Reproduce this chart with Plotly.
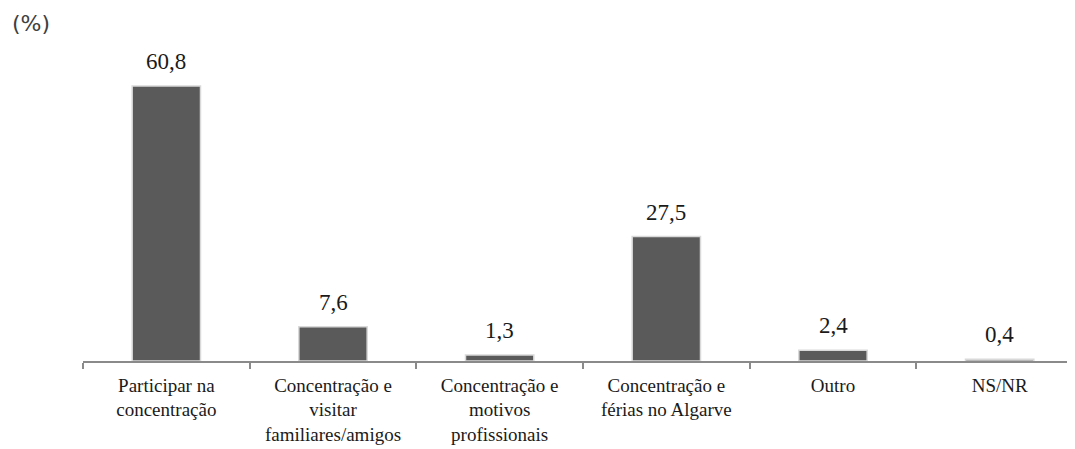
import plotly.graph_objects as go

categories = [
    "Participar na<br>concentração",
    "Concentração e<br>visitar<br>familiares/amigos",
    "Concentração e<br>motivos<br>profissionais",
    "Concentração e<br>férias no Algarve",
    "Outro",
    "NS/NR",
]
values = [60.8, 7.6, 1.3, 27.5, 2.4, 0.4]
value_labels = ["60,8", "7,6", "1,3", "27,5", "2,4", "0,4"]

SERIF = "Liberation Serif"

fig = go.Figure()
fig.add_trace(go.Bar(
    x=categories,
    y=values,
    width=0.41,
    marker=dict(color="#5a5a5a", line=dict(color="#d9d9d9", width=1.5)),
    hoverinfo="skip",
))

for c, v, t in zip(categories, values, value_labels):
    fig.add_annotation(
        x=c, y=v, text=t, showarrow=False, yanchor="bottom", yshift=10,
        font=dict(family=SERIF, size=23, color="#1a1a1a"),
    )

fig.add_annotation(
    xref="paper", yref="paper", x=-0.073, y=1.066, xanchor="left", yanchor="middle",
    text="(%)", showarrow=False,
    font=dict(family="DejaVu Sans", size=22, color="#404040"),
)

plot_h = 317
fig.update_layout(
    width=1075, height=449,
    margin=dict(l=75, r=0, t=36, b=96, autoexpand=False),
    paper_bgcolor="white", plot_bgcolor="white",
    showlegend=False,
    font=dict(family=SERIF),
    xaxis=dict(
        range=[-0.5, 5.5], automargin=False,
        showline=True, linecolor="#8a8a8a", linewidth=1.5,
        ticks="outside", tickson="boundaries", ticklen=6, tickcolor="#8a8a8a", tickwidth=1.5,
        ticklabelstandoff=6,
        tickfont=dict(family=SERIF, size=19, color="#1a1a1a"),
        showgrid=False, zeroline=False,
    ),
    yaxis=dict(
        range=[0, plot_h / 4.523], visible=False, showgrid=False, zeroline=False,
        automargin=False,
    ),
)

fig.write_html("out.html")
